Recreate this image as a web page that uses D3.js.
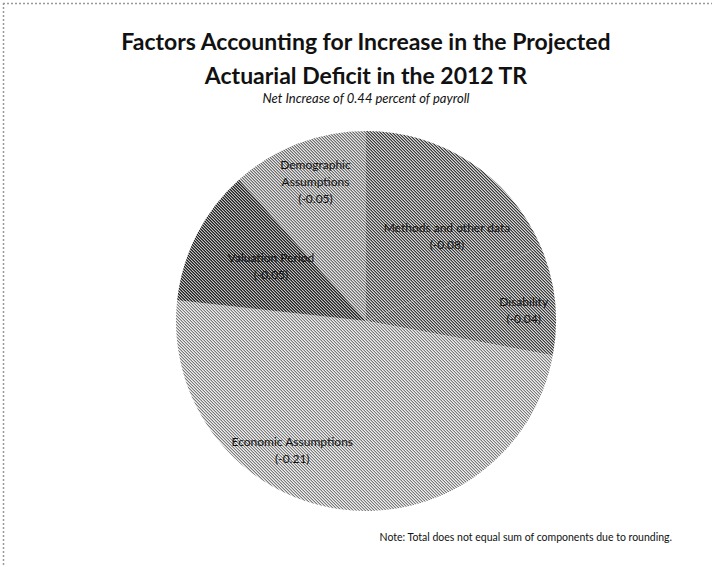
<!DOCTYPE html>
<html>
<head>
<meta charset="utf-8">
<script src="https://cdn.jsdelivr.net/npm/d3@7"></script>
<style>
  html, body { margin: 0; padding: 0; background: #fff; }
  svg { display: block; }
</style>
</head>
<body>
<svg id="chart" width="712" height="567"></svg>
<script>
// ---- data ----
const categories = ["Methods and other data", "Disability", "Economic Assumptions", "Valuation Period", "Demographic Assumptions"];
const labelLines = [["Methods and other data"], ["Disability"], ["Economic Assumptions"], ["Valuation Period"], ["Demographic", "Assumptions"]];
const values = [0.08, 0.04, 0.21, 0.05, 0.05];
const valueLabels = ["(-0.08)", "(-0.04)", "(-0.21)", "(-0.05)", "(-0.05)"];
const titleLines = ["Factors Accounting for Increase in the Projected", "Actuarial Deficit in the 2012 TR"];
const subtitle = "Net Increase of 0.44 percent of payroll";
const note = "Note: Total does not equal sum of components due to rounding.";

// ---- styling / layout ----
const shades = [
  ["#d8d8d8", "#8a8a8a", "#3a3a3a"],
  ["#d8d8d8", "#8a8a8a", "#3a3a3a"],
  ["#f0f0f0", "#c0c0c0", "#7a7a7a"],
  ["#c4c4c4", "#5e5e5e", "#222222"],
  ["#e8e8e8", "#aaaaaa", "#6e6e6e"]
];
// label anchor offsets in units of radius
const labelOffsets = [[0.426, -0.47], [0.83, -0.08], [-0.388, 0.66], [-0.5, -0.31], [-0.266, -0.80]];

const svg = d3.select("#chart");
const cx = 366, cy = 321, r = 190;

// border (dotted)
svg.append("line").attr("x1", 3).attr("x2", 712).attr("y1", 3.5).attr("y2", 3.5)
  .attr("stroke", "#9a9a9a").attr("stroke-width", 1.5).attr("stroke-dasharray", "2,2");
svg.append("line").attr("x1", 3.5).attr("x2", 3.5).attr("y1", 3).attr("y2", 567)
  .attr("stroke", "#9a9a9a").attr("stroke-width", 1.5).attr("stroke-dasharray", "2,2");

// patterns
const defs = svg.append("defs");
shades.forEach((cols, i) => {
  const p = defs.append("pattern").attr("id", "pat" + i)
    .attr("patternUnits", "userSpaceOnUse").attr("width", 3).attr("height", 3);
  for (let y = 0; y < 3; y++) for (let x = 0; x < 3; x++) {
    p.append("rect").attr("x", x).attr("y", y).attr("width", 1).attr("height", 1)
      .attr("fill", cols[(x - y + 3) % 3]).attr("shape-rendering", "crispEdges");
  }
});

// title
const title = svg.append("text").attr("x", cx).attr("text-anchor", "middle")
  .attr("font-family", "Lato, 'Open Sans', sans-serif").attr("font-weight", "bold")
  .attr("font-size", 23).attr("fill", "#111");
title.selectAll("tspan").data(titleLines).join("tspan")
  .attr("x", cx).attr("y", (d, i) => 50 + i * 34).text(d => d);

svg.append("text").attr("x", cx).attr("y", 103).attr("text-anchor", "middle")
  .attr("font-family", "Lato, 'Open Sans', sans-serif").attr("font-style", "italic")
  .attr("font-size", 13).attr("fill", "#111").text(subtitle);

// pie
const pie = d3.pie().sort(null).value(d => d)(values);
const arc = d3.arc().innerRadius(0).outerRadius(r);
const g = svg.append("g").attr("transform", `translate(${cx},${cy})`);
g.selectAll("path").data(pie).join("path")
  .attr("d", arc).attr("fill", (d, i) => `url(#pat${i})`);

// labels
const lbl = g.selectAll("text.lbl").data(pie).join("text").attr("class", "lbl")
  .attr("text-anchor", "middle")
  .attr("font-family", "Lato, 'Open Sans', sans-serif").attr("font-size", 12).attr("fill", "#111");
lbl.each(function (d, i) {
  const t = d3.select(this);
  const lines = labelLines[i].concat([valueLabels[i]]);
  const x0 = labelOffsets[i][0] * r, y0 = labelOffsets[i][1] * r;
  lines.forEach((s, k) => {
    t.append("tspan").attr("x", x0).attr("y", y0 + k * 17).text(s);
  });
});

// note
svg.append("text").attr("x", 672).attr("y", 541).attr("text-anchor", "end")
  .attr("font-family", "Lato, 'Open Sans', sans-serif").attr("font-size", 10.5)
  .attr("fill", "#111").text(note);
</script>
</body>
</html>
